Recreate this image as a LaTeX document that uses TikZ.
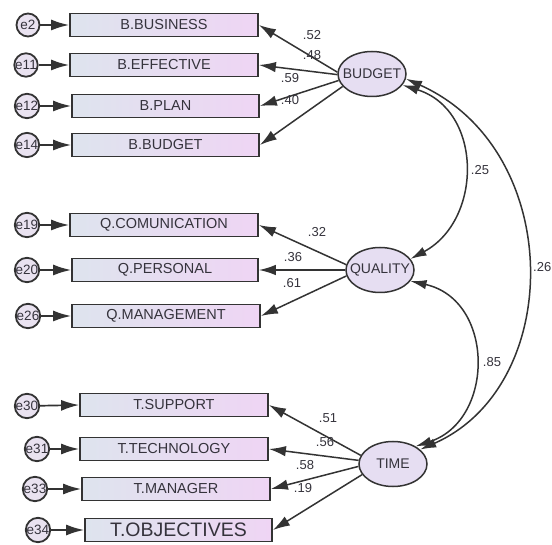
\documentclass[tikz,border=0pt]{standalone}
\usepackage{fontspec}
\setmainfont{Liberation Sans}
\usetikzlibrary{arrows.meta,shapes.geometric}

\definecolor{edge}{HTML}{333333}
\definecolor{txt}{HTML}{35333C}
\definecolor{boxL}{HTML}{DEE4EE}
\definecolor{boxR}{HTML}{EFD5F4}
\definecolor{latfill}{HTML}{E6DEF2}
\definecolor{errfill}{HTML}{E9E2F0}

\newcommand{\obsfont}{\fontsize{14.5}{16}\selectfont}
\newcommand{\bigobsfont}{\fontsize{19.5}{21}\selectfont}
\newcommand{\latfont}{\fontsize{14}{16}\selectfont}
\newcommand{\errfont}{\fontsize{13.5}{15}\selectfont}
\newcommand{\coeffont}{\fontsize{13}{15}\selectfont}

\tikzset{
  obs/.style={draw=edge, line width=1.8pt, left color=boxL, right color=boxR,
    minimum width=188pt, minimum height=23pt, inner sep=0pt, font=\obsfont, text=txt},
  lat/.style={ellipse, draw=edge, line width=1.5pt, fill=latfill,
    minimum width=68pt, minimum height=45pt, inner sep=0pt, font=\latfont, text=txt},
  err/.style={circle, draw=edge, line width=1.8pt, fill=errfill,
    minimum size=23pt, inner sep=0pt, font=\errfont, text=txt},
  load/.style={draw=edge, line width=1.5pt, -{Latex[length=17pt,width=10.5pt]}},
  errarrow/.style={draw=edge, line width=1.7pt, -{Latex[length=18pt,width=11pt]}},
  cov/.style={draw=edge, line width=1.5pt,
    {Latex[length=16pt,width=9.5pt]}-{Latex[length=16pt,width=9.5pt]}},
  coef/.style={font=\coeffont, text=txt, inner sep=0pt}
}

\begin{document}
\begin{tikzpicture}[x=1pt, y=-1pt]
\useasboundingbox (0,0) rectangle (552,545);
\fill[white] (0,0) rectangle (552,545);

% latent variables
\node[lat] (bud)  at (372,74)  {\makebox[0pt]{BUDGET}};
\node[lat] (qual) at (380,270) {\makebox[0pt]{QUALITY}};
\node[lat] (time) at (393,464) {\makebox[0pt]{TIME}};

% budget indicators
\node[obs] (b1) at (164,25)    {B.BUSINESS};
\node[obs] (b2) at (164,65)    {B.EFFECTIVE};
\node[obs, minimum width=187pt] (b3) at (165.5,106) {B.PLAN};
\node[obs, minimum width=187pt] (b4) at (165.5,145) {B.BUDGET};

% quality indicators
\node[obs] (q1) at (164,225)   {Q.COMUNICATION};
\node[obs, minimum width=186pt] (q2) at (165,270) {Q.PERSONAL};
\node[obs] (q3) at (166,316)   {Q.MANAGEMENT};

% time indicators
\node[obs] (t1) at (174,405)   {T.SUPPORT};
\node[obs] (t2) at (174,449)   {T.TECHNOLOGY};
\node[obs] (t3) at (176,489)   {T.MANAGER};
\node[obs, minimum width=187pt, font=\bigobsfont] (t4) at (178.5,530) {T.OBJECTIVES};

% error terms
\node[err] (e2)  at (28,25)  {e2};
\node[err] (e11) at (26,65)  {e11};
\node[err] (e12) at (27,106) {e12};
\node[err] (e14) at (27,145) {e14};
\node[err] (e19) at (27,225) {e19};
\node[err] (e20) at (27,270) {e20};
\node[err] (e26) at (28,316) {e26};
\node[err] (e30) at (27,406) {e30};
\node[err] (e31) at (37,449) {e31};
\node[err] (e33) at (35,489) {e33};
\node[err] (e34) at (38,530) {e34};

% error arrows
\draw[errarrow] (e2)  -- (b1.west);
\draw[errarrow] (e11) -- (b2.west);
\draw[errarrow] (e12) -- (b3.west);
\draw[errarrow] (e14) -- (b4.west);
\draw[errarrow] (e19) -- (q1.west);
\draw[errarrow] (e20) -- (q2.west);
\draw[errarrow] (e26) -- (q3.west);
\draw[errarrow] (e30) -- (t1.west);
\draw[errarrow] (e31) -- (t2.west);
\draw[errarrow] (e33) -- (t3.west);
\draw[errarrow] (e34) -- (t4.west);

% factor loadings
\draw[load] (bud.177) -- (b1.east);
\draw[load] (bud.181) -- (b2.east);
\draw[load] (bud.191) -- (b3.east);
\draw[load] (bud.203) -- (b4.east);

\draw[load] (qual.171) -- (q1.east);
\draw[load] (qual.180) -- (q2.east);
\draw[load] (qual.190) -- (q3.east);

\draw[load] (time.165) -- (t1.east);
\draw[load] (time.174) -- (t2.east);
\draw[load] (time.184) -- (t3.east);
\draw[load] (time.199) -- (t4.east);

% loading estimates
\node[coef] (l1)  at (312,35)  {.52};
\node[coef] (l2)  at (312,55)  {.48};
\node[coef] (l3)  at (290,78)  {.59};
\node[coef] (l4)  at (290,100) {.40};
\node[coef] (l5)  at (317,232) {.32};
\node[coef] (l6)  at (293,257) {.36};
\node[coef] (l7)  at (292,283) {.61};
\node[coef] (l8)  at (328,418) {.51};
\node[coef] (l9)  at (325,442) {.56};
\node[coef] (l10) at (305,465) {.58};
\node[coef] (l11) at (303,488) {.19};

% covariances
\draw[cov] (bud.-20) .. controls (483,110) and (483,220) .. (qual.20);
\draw[cov] (qual.-20) .. controls (495,300) and (495,420) .. (time.38);
\draw[cov] (bud.-8) .. controls (565,150) and (565,386) .. (time.28);

\node[coef] (c1) at (480,170) {.25};
\node[coef] (c2) at (492,362) {.85};
\node[coef, anchor=east] (c3) at (551.5,267) {.26};
\end{tikzpicture}
\end{document}
